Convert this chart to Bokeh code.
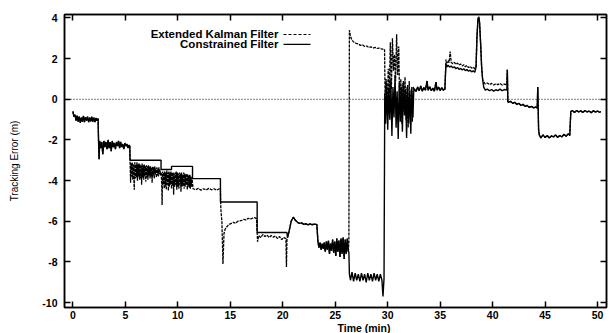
from bokeh.plotting import figure
from bokeh.models import (Range1d, LinearAxis, FixedTicker, Span, Label, Arrow, Title,
                          ColumnDataSource)
from bokeh.embed import file_html
from bokeh.resources import INLINE

FONT = "Liberation Sans"

x_ticks = [0, 5, 10, 15, 20, 25, 30, 35, 40, 45, 50]
y_ticks = [-10, -8, -6, -4, -2, 0, 2, 4]
y_tick_labels = {-10: "-10", -8: "-8", -6: "-6", -4: "-4", -2: "-2", 0: "0", 2: "2", 4: "4"}
x_label = "Time (min)"
y_label = "Tracking Error (m)"
series_names = ["Extended Kalman Filter", "Constrained Filter"]

# ---- data: (time [min], tracking error [m]) ----
# segments where both filters coincide
seg_a = [(0.0, -0.6), (0.1, -0.85), (0.2, -0.75), (0.3, -1.05), (0.4, -0.8), (0.5, -1.1),
         (0.6, -0.85), (0.7, -1.15), (0.8, -0.9), (0.9, -1.1), (1.0, -0.82), (1.1, -1.12),
         (1.2, -0.88), (1.3, -1.05), (1.4, -0.85), (1.5, -1.12), (1.6, -0.9), (1.7, -1.08),
         (1.8, -0.86), (1.9, -1.1), (2.0, -0.9), (2.1, -1.12), (2.2, -0.92), (2.3, -1.05),
         (2.4, -0.95)]
seg_b = [(2.45, -2.15), (2.5, -2.95), (2.55, -2.05), (2.65, -2.4), (2.75, -2.1), (2.85, -2.7),
         (2.95, -2.05), (3.05, -2.35), (3.15, -2.1), (3.25, -2.45), (3.35, -2.0), (3.45, -2.4),
         (3.55, -2.1), (3.65, -2.55), (3.75, -2.05), (3.85, -2.35), (3.95, -2.15), (4.05, -2.45),
         (4.15, -2.1), (4.25, -2.3), (4.35, -2.05), (4.45, -2.4), (4.55, -2.1), (4.65, -2.35),
         (4.75, -2.2), (4.85, -2.45), (4.95, -2.15), (5.05, -2.3), (5.15, -2.2), (5.25, -2.4),
         (5.35, -2.25), (5.42, -2.3)]
seg_h = [(20.45, -6.8), (20.6, -6.5), (20.8, -6.0), (21.0, -5.8), (21.2, -5.95), (21.4, -6.05),
         (21.6, -6.1), (21.8, -6.08), (22.0, -6.15), (22.2, -6.12), (22.4, -6.18), (22.6, -6.13),
         (22.8, -6.17), (23.0, -6.14), (23.25, -6.16)]
seg_i = [(23.35, -7.0), (23.45, -7.3), (23.55, -7.05), (23.65, -7.4), (23.75, -7.1), (23.85, -7.35),
         (23.95, -7.05), (24.05, -7.5), (24.15, -7.0), (24.25, -7.4), (24.35, -6.95), (24.45, -7.6),
         (24.55, -7.1), (24.65, -7.45), (24.75, -6.9), (24.85, -7.55), (24.95, -7.0), (25.05, -7.7),
         (25.15, -6.85), (25.25, -7.5), (25.35, -6.95), (25.45, -7.75), (25.55, -6.85), (25.65, -7.6),
         (25.75, -6.8), (25.85, -7.85), (25.95, -6.9), (26.05, -7.6), (26.15, -6.85), (26.25, -7.5)]
seg_l = [(32.55, 0.5), (32.7, 0.38), (32.85, 0.6), (33.0, 0.42), (33.15, 0.65), (33.3, 0.4),
         (33.45, 0.58), (33.6, 0.45), (33.75, 0.9), (33.85, 0.45), (34.0, 0.62), (34.15, 0.42),
         (34.3, 0.55), (34.45, 0.4), (34.6, 0.85), (34.7, 0.45), (34.85, 0.6), (35.0, 0.42),
         (35.15, 0.58), (35.3, 0.45), (35.45, 0.5)]
seg_peak = [(38.42, 1.6), (38.5, 3.0), (38.6, 3.95), (38.68, 4.05), (38.75, 3.8), (38.85, 2.8),
            (38.95, 1.6), (39.05, 0.95)]
seg_o = [(41.4, 1.45), (41.45, -0.1), (41.5, -0.15), (41.7, -0.1), (41.9, -0.2), (42.1, -0.15),
         (42.3, -0.25), (42.5, -0.2), (42.7, -0.3), (42.9, -0.25), (43.1, -0.35), (43.3, -0.3),
         (43.5, -0.4), (43.7, -0.35), (43.9, -0.42), (44.1, -0.38), (44.25, -0.42), (44.3, 0.6),
         (44.38, -1.5)]
seg_p = [(44.45, -1.75), (44.6, -1.9), (44.8, -1.75), (45.0, -1.88), (45.2, -1.78), (45.4, -1.9),
         (45.6, -1.8), (45.8, -1.85), (46.0, -1.75), (46.2, -1.88), (46.4, -1.78), (46.6, -1.85),
         (46.8, -1.72), (47.0, -1.82), (47.2, -1.7), (47.35, -1.78)]
seg_q = [(47.45, -0.6), (47.6, -0.55), (47.8, -0.65), (48.0, -0.55), (48.2, -0.62), (48.4, -0.57),
         (48.6, -0.65), (48.8, -0.55), (49.0, -0.62), (49.2, -0.58), (49.4, -0.66), (49.6, -0.56),
         (49.8, -0.63), (50.0, -0.58), (50.2, -0.64), (50.3, -0.6)]

# Extended Kalman Filter only
ekf_c = [(5.45, -3.1), (5.5, -4.1), (5.55, -3.15), (5.6, -3.8), (5.65, -3.1), (5.7, -3.95),
         (5.75, -3.2), (5.8, -3.7), (5.85, -4.45), (5.9, -3.1), (5.95, -3.9), (6.0, -3.2),
         (6.05, -3.85), (6.1, -3.1), (6.15, -4.0), (6.2, -3.2), (6.25, -3.8), (6.3, -3.15),
         (6.35, -3.95), (6.4, -3.2), (6.45, -3.9), (6.5, -3.25), (6.55, -4.2), (6.6, -3.15),
         (6.65, -3.85), (6.7, -3.25), (6.75, -3.95), (6.8, -3.2), (6.85, -3.8), (6.9, -3.3),
         (6.95, -4.05), (7.0, -3.25), (7.05, -3.85), (7.1, -3.3), (7.15, -3.95), (7.2, -3.25),
         (7.25, -3.75), (7.3, -3.3), (7.35, -3.9), (7.4, -3.3), (7.45, -3.8), (7.5, -3.35),
         (7.55, -4.1), (7.6, -3.3), (7.65, -3.75), (7.7, -3.35), (7.75, -3.9), (7.8, -3.3),
         (7.85, -3.7), (7.9, -3.4), (7.95, -3.85), (8.0, -3.35), (8.05, -3.75), (8.1, -3.4),
         (8.15, -3.8), (8.2, -3.35), (8.25, -3.7), (8.3, -3.45), (8.35, -3.75)]
ekf_d = [(8.42, -3.6), (8.47, -4.3), (8.5, -5.2), (8.55, -3.55), (8.6, -4.2), (8.65, -3.6),
         (8.7, -4.4), (8.75, -3.55), (8.8, -4.3), (8.85, -3.6), (8.9, -4.45), (8.95, -3.5),
         (9.0, -4.2), (9.05, -3.6), (9.1, -4.5), (9.15, -3.55), (9.2, -4.3), (9.25, -3.6),
         (9.3, -4.2), (9.35, -3.55), (9.4, -4.4), (9.45, -3.6), (9.5, -4.25), (9.55, -3.6),
         (9.6, -4.7), (9.65, -3.65), (9.7, -4.3), (9.75, -3.6), (9.8, -4.2), (9.85, -3.55),
         (9.9, -4.45), (9.95, -3.6), (10.0, -4.3), (10.05, -3.65), (10.1, -4.4), (10.15, -3.6),
         (10.2, -4.2), (10.25, -3.65), (10.3, -4.55), (10.35, -3.6), (10.4, -4.3), (10.45, -3.7),
         (10.5, -4.25), (10.55, -3.6), (10.6, -4.4), (10.65, -3.65), (10.7, -4.3), (10.75, -3.7),
         (10.8, -4.2), (10.85, -3.65), (10.9, -4.45), (10.95, -3.7), (11.0, -4.3), (11.05, -3.75),
         (11.1, -4.35), (11.15, -3.7), (11.2, -4.4), (11.25, -3.8), (11.3, -4.3), (11.35, -3.85)]
ekf_e = [(11.45, -4.4), (11.7, -4.45), (11.95, -4.38), (12.2, -4.47), (12.45, -4.4), (12.7, -4.46),
         (12.95, -4.38), (13.2, -4.45), (13.45, -4.4), (13.7, -4.47), (13.95, -4.4), (14.06, -4.42)]
ekf_f = [(14.1, -5.4), (14.2, -6.0), (14.3, -8.1), (14.4, -6.6), (14.5, -6.4), (14.7, -6.25),
         (14.9, -6.15), (15.1, -6.1), (15.3, -6.05), (15.5, -6.1), (15.7, -6.0), (15.9, -5.98),
         (16.1, -5.95), (16.3, -5.9), (16.5, -5.93), (16.7, -5.85), (16.9, -5.9), (17.1, -5.85),
         (17.3, -5.82), (17.5, -5.87)]
ekf_g = [(17.6, -7.0), (17.7, -6.7), (17.9, -6.8), (18.1, -6.65), (18.3, -6.75), (18.5, -6.68),
         (18.7, -6.8), (18.9, -6.7), (19.1, -6.78), (19.3, -6.72), (19.5, -6.85), (19.7, -6.75),
         (19.9, -6.9), (20.1, -6.8), (20.3, -6.85), (20.35, -8.25), (20.4, -6.9)]
ekf_j = [(26.3, -7.0), (26.35, 3.4), (26.45, 3.1), (26.6, 2.9), (26.8, 2.8), (27.0, 2.75),
         (27.2, 2.72), (27.4, 2.65), (27.6, 2.68), (27.8, 2.6), (28.0, 2.62), (28.2, 2.55),
         (28.4, 2.58), (28.6, 2.52), (28.8, 2.55), (29.0, 2.5), (29.2, 2.52), (29.4, 2.48),
         (29.6, 2.45)]
ekf_k = [(29.7, 2.45), (29.75, 0.2), (29.85, 1.0), (29.95, -0.8), (30.05, 1.5), (30.15, 0.3),
         (30.25, 2.8), (30.35, 0.5), (30.45, 3.0), (30.55, 1.4), (30.65, 2.2), (30.75, 0.9),
         (30.85, 3.2), (30.95, 1.2), (31.05, 2.6), (31.15, -0.5), (31.25, 1.0), (31.35, -1.2),
         (31.45, 0.8), (31.55, -0.6), (31.65, 1.1), (31.75, -1.0), (31.85, 0.6), (31.95, -1.4),
         (32.05, 0.9), (32.15, -0.7), (32.25, 0.5), (32.35, -1.1), (32.45, 0.6)]
ekf_m = [(35.55, 1.95), (35.65, 1.78), (35.75, 1.9), (35.85, 1.8), (35.95, 2.35), (36.05, 1.82),
         (36.2, 1.75), (36.35, 1.82), (36.5, 1.72), (36.65, 1.78), (36.8, 1.68), (36.95, 1.74),
         (37.1, 1.64), (37.25, 1.7), (37.4, 1.6), (37.55, 1.66), (37.7, 1.56), (37.85, 1.62),
         (38.0, 1.53), (38.15, 1.58), (38.3, 1.5)]
ekf_n = [(39.15, 0.85), (39.3, 0.75), (39.5, 0.8), (39.7, 0.72), (39.9, 0.78), (40.1, 0.7),
         (40.3, 0.76), (40.5, 0.72), (40.7, 0.78), (40.9, 0.7), (41.1, 0.75), (41.35, 0.72)]

# Constrained Filter only
con_c = [(5.45, -3.0), (8.4, -3.0)]
con_d = [(8.4, -3.45), (9.4, -3.45), (9.4, -3.3), (11.4, -3.3)]
con_e = [(11.4, -3.9), (14.06, -3.9)]
con_f = [(14.06, -5.05), (17.56, -5.05)]
con_g = [(17.56, -6.55), (20.4, -6.55)]
con_j = [(26.3, -7.5), (26.35, -8.6), (26.45, -8.9), (26.6, -8.5), (26.75, -8.95), (26.9, -8.55),
         (27.05, -8.9), (27.2, -8.6), (27.35, -8.95), (27.5, -8.55), (27.65, -8.9), (27.8, -8.6),
         (27.95, -9.0), (28.1, -8.55), (28.25, -8.9), (28.4, -8.6), (28.55, -8.95), (28.7, -8.55),
         (28.85, -8.9), (29.0, -8.6), (29.15, -8.95), (29.3, -8.6), (29.45, -8.9), (29.55, -9.7),
         (29.65, -8.8)]
con_k = [(29.72, 0.3), (29.8, -1.2), (29.9, 0.8), (30.0, -1.5), (30.1, 0.5), (30.2, -1.0),
         (30.3, 1.0), (30.4, -1.8), (30.5, 0.6), (30.6, -0.9), (30.7, 1.2), (30.8, -1.4),
         (30.9, 0.4), (31.0, -1.95), (31.1, 0.8), (31.2, -1.1), (31.3, 0.6), (31.4, -1.6),
         (31.5, 0.9), (31.6, -0.8), (31.7, 0.5), (31.8, -1.9), (31.9, 0.7), (32.0, -1.2),
         (32.1, 0.4), (32.2, -1.7), (32.3, 0.6), (32.4, -0.9), (32.48, 0.4)]
con_m = [(35.55, 1.75), (35.65, 1.6), (35.75, 1.68), (35.9, 1.58), (36.05, 1.64), (36.2, 1.55),
         (36.35, 1.6), (36.5, 1.5), (36.65, 1.56), (36.8, 1.47), (36.95, 1.52), (37.1, 1.44),
         (37.25, 1.5), (37.4, 1.41), (37.55, 1.46), (37.7, 1.38), (37.85, 1.43), (38.0, 1.35),
         (38.15, 1.4), (38.3, 1.33)]
con_n = [(39.15, 0.6), (39.3, 0.45), (39.5, 0.5), (39.7, 0.42), (39.9, 0.48), (40.1, 0.4),
         (40.3, 0.47), (40.5, 0.43), (40.7, 0.5), (40.9, 0.42), (41.1, 0.48), (41.35, 0.45)]

ekf = (seg_a + seg_b + ekf_c + ekf_d + ekf_e + ekf_f + ekf_g + seg_h + seg_i + ekf_j + ekf_k
       + seg_l + ekf_m + seg_peak + ekf_n + seg_o + seg_p + seg_q)
con = (seg_a + seg_b + con_c + con_d + con_e + con_f + con_g + seg_h + seg_i + con_j + con_k
       + seg_l + con_m + seg_peak + con_n + seg_o + seg_p + seg_q)

src_ekf = ColumnDataSource(dict(t=[a for a, b in ekf], e=[b for a, b in ekf]))
src_con = ColumnDataSource(dict(t=[a for a, b in con], e=[b for a, b in con]))

p = figure(width=609, height=333, x_range=Range1d(-0.8, 50.85), y_range=Range1d(-10.24, 4.17),
           output_backend="svg", toolbar_location=None,
           min_border_left=64, min_border_right=3, min_border_top=14, min_border_bottom=26)
p.grid.visible = False
p.outline_line_color = "black"
p.outline_line_width = 1.5
p.background_fill_color = "white"
p.border_fill_color = "white"

xt = FixedTicker(ticks=x_ticks)
yt = FixedTicker(ticks=y_ticks)

def style_axis(ax, labels=True):
    ax.axis_line_color = "black"
    ax.axis_line_width = 1.5
    ax.major_tick_in = 6
    ax.major_tick_out = 0
    ax.major_tick_line_color = "black"
    ax.major_tick_line_width = 1.5
    ax.minor_tick_line_color = None
    if labels:
        ax.major_label_text_font = FONT
        ax.major_label_text_font_size = "10.5px"
        ax.major_label_text_font_style = "bold"
        ax.major_label_text_color = "black"
    else:
        ax.major_label_text_color = None
        ax.major_label_text_font_size = "1px"
        ax.major_label_standoff = 0

xa = p.xaxis[0]
xa.ticker = xt
style_axis(xa)
xa.major_label_standoff = 3

ya = p.yaxis[0]
ya.ticker = yt
style_axis(ya)
ya.major_label_overrides = y_tick_labels
ya.major_label_standoff = 7
ya.axis_label = y_label
ya.axis_label_text_font = FONT
ya.axis_label_text_font_size = "10px"
ya.axis_label_text_font_style = "normal"
ya.axis_label_text_color = "black"
ya.axis_label_standoff = 19

top = LinearAxis(ticker=xt)
style_axis(top, labels=False)
p.add_layout(top, "above")
right = LinearAxis(ticker=yt)
style_axis(right, labels=False)
p.add_layout(right, "right")

p.add_layout(Title(text=x_label, align="left", offset=273, standoff=-4, text_font=FONT,
                   text_font_size="10.5px", text_font_style="bold", text_color="black"), "below")

p.add_layout(Span(location=0, dimension="width", line_color="black", line_width=1,
                  line_dash="1 2"))

EKF_STYLE = dict(line_width=1.3, line_dash="3 1")
CON_STYLE = dict(line_width=1.4)

r_ekf = p.line("t", "e", source=src_ekf, line_color="black", **EKF_STYLE)
r_con = p.line("t", "e", source=src_con, line_color="black", **CON_STYLE)

# gnuplot-style key: text on the left, line sample on the right
key_text_x = 19.59
key_line_x = (20.07, 22.64)
key_rows_y = [3.19, 2.70]
key_styles = [dict(line_width=1.1, line_dash="3 2"), CON_STYLE]
for name, ky, sty in zip(series_names, key_rows_y, key_styles):
    p.add_layout(Label(x=key_text_x, y=ky, text=name, text_align="right", text_baseline="middle",
                       text_font=FONT, text_font_size="11.5px", text_font_style="bold",
                       text_color="black"))
    p.add_layout(Arrow(end=None, x_start=key_line_x[0], y_start=ky, x_end=key_line_x[1], y_end=ky,
                       line_color="black", **sty))

open("out.html", "w").write(file_html(p, INLINE))
